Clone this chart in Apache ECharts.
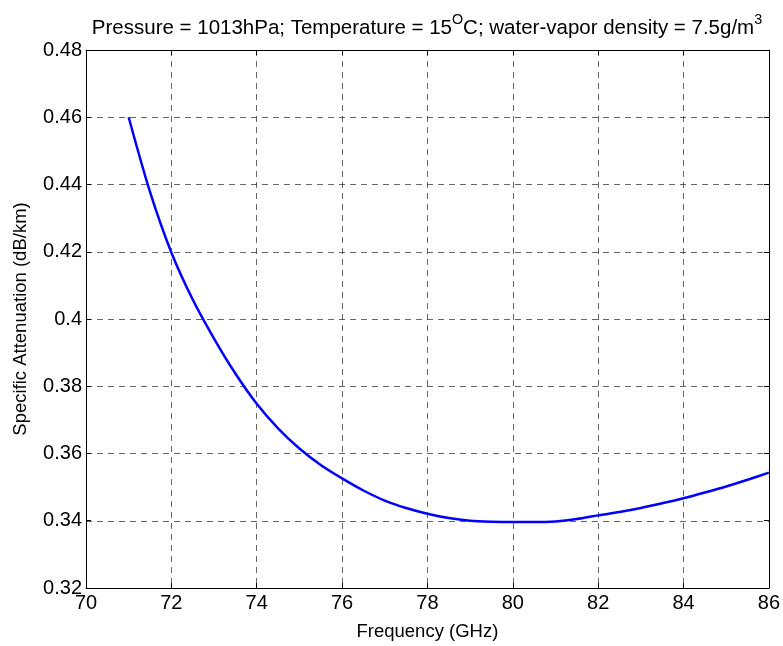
<!DOCTYPE html>
<html>
<head>
<meta charset="utf-8">
<script src="https://cdn.jsdelivr.net/npm/echarts@6/dist/echarts.min.js"></script>
<style>html,body{margin:0;padding:0;background:#fff}#c{width:783px;height:646px}</style>
</head>
<body>
<div id="c"></div>
<script>
const freq = [71, 71.5, 72, 72.5, 73, 73.5, 74, 74.5, 75, 75.5, 76, 76.5, 77, 77.5, 78, 78.5, 79, 79.5, 80, 80.5, 81, 81.5, 82, 82.5, 83, 83.5, 84, 84.5, 85, 85.5, 86];
const atten = [0.460, 0.4378, 0.4198, 0.4058, 0.3942, 0.3838, 0.3748, 0.3675, 0.3615, 0.3566, 0.3526, 0.3490, 0.3460, 0.3438, 0.3421, 0.3408, 0.3400, 0.3397, 0.3396, 0.3396, 0.3398, 0.3405, 0.3416, 0.3426, 0.3438, 0.3452, 0.3467, 0.3484, 0.3502, 0.3522, 0.3543];
const titleText = 'Pressure = 1013hPa; Temperature = 15{sup|O}C; water-vapor density = 7.5g/m{sup|3}';
const xName = 'Frequency (GHz)';
const yName = 'Specific Attenuation (dB/km)';

const font = 'Arial, "Liberation Sans", Helvetica, sans-serif';
const chart = echarts.init(document.getElementById('c'));
const grid = {left: 86, right: 12, top: 50, bottom: 55};
const gridLine = {show: true, lineStyle: {color: '#333', type: [6, 5], width: 1, opacity: 0.75}};
chart.setOption({
  animation: false,
  backgroundColor: '#fff',
  title: {
    text: titleText,
    left: 427,
    textAlign: 'center',
    top: 13,
    padding: 0,
    textStyle: {
      fontFamily: font, fontSize: 20.5, fontWeight: 'normal', color: '#000', lineHeight: 30,
      rich: {sup: {fontFamily: font, fontSize: 14.3, color: '#000', verticalAlign: 'top', lineHeight: 30, padding: [0, 0, 0, 0]}}
    }
  },
  grid: grid,
  xAxis: [{
    type: 'value', min: 70, max: 86, interval: 2,
    name: xName, nameLocation: 'middle', nameGap: 34,
    nameTextStyle: {fontFamily: font, fontSize: 18.5, color: '#000'},
    axisLine: {show: true, onZero: false, lineStyle: {color: '#000', width: 1}},
    axisTick: {show: true, inside: true, length: 5, lineStyle: {color: '#000'}},
    axisLabel: {fontFamily: font, fontSize: 20, color: '#000', margin: 5},
    splitLine: gridLine
  }, {
    type: 'value', min: 70, max: 86, interval: 2, position: 'top',
    axisLine: {show: true, onZero: false, lineStyle: {color: '#000', width: 1}},
    axisTick: {show: true, inside: true, length: 5, lineStyle: {color: '#000'}},
    axisLabel: {show: false}, splitLine: {show: false}
  }],
  yAxis: [{
    type: 'value', min: 0.32, max: 0.48, interval: 0.02,
    name: yName, nameLocation: 'middle', nameGap: 56, nameRotate: 90,
    nameTextStyle: {fontFamily: font, fontSize: 18.5, color: '#000'},
    axisLine: {show: true, onZero: false, lineStyle: {color: '#000', width: 1}},
    axisTick: {show: true, inside: true, length: 5, lineStyle: {color: '#000'}},
    axisLabel: {fontFamily: font, fontSize: 20, color: '#000', margin: 4,
      formatter: v => String(parseFloat(v.toFixed(2)))},
    splitLine: gridLine
  }, {
    type: 'value', min: 0.32, max: 0.48, interval: 0.02, position: 'right',
    axisLine: {show: true, onZero: false, lineStyle: {color: '#000', width: 1}},
    axisTick: {show: true, inside: true, length: 5, lineStyle: {color: '#000'}},
    axisLabel: {show: false}, splitLine: {show: false}
  }],
  series: [{
    type: 'line',
    data: freq.map((f, i) => [f, atten[i]]),
    smooth: 0.3,
    showSymbol: false,
    lineStyle: {color: '#0000ff', width: 2.5},
    itemStyle: {color: '#0000ff'}
  }]
});
</script>
</body>
</html>
